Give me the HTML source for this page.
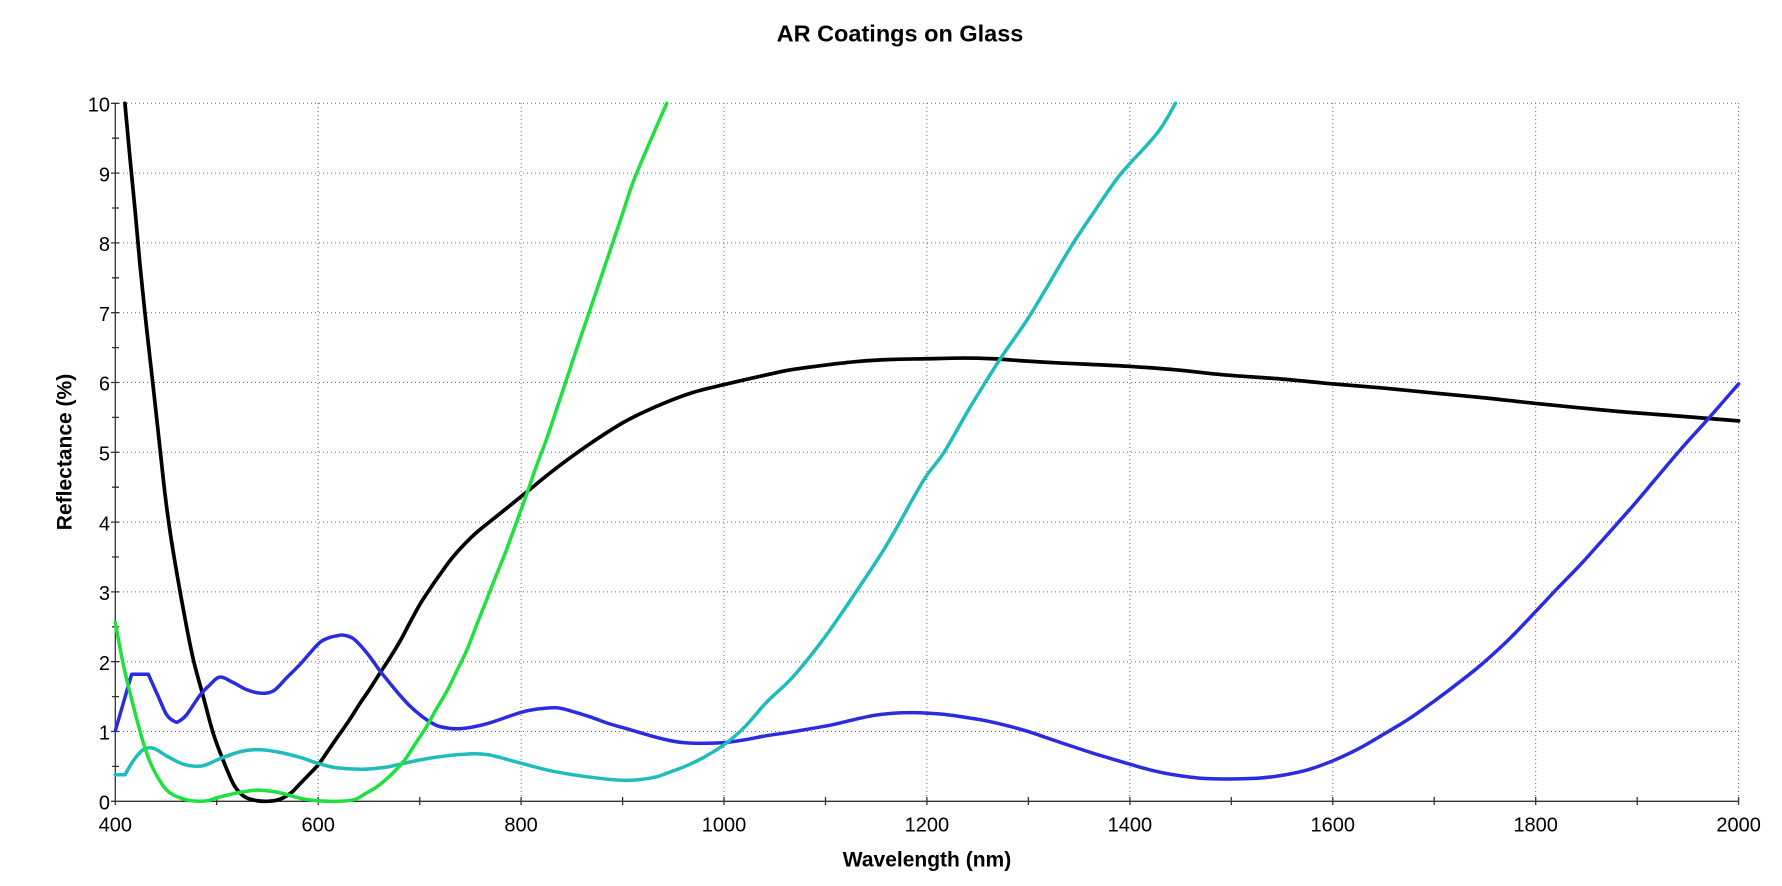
<!DOCTYPE html>
<html>
<head>
<meta charset="utf-8">
<style>
html,body{margin:0;padding:0;background:#fff;}
svg{display:block;}
text{font-family:"Liberation Sans",Arial,sans-serif;fill:#000;}
</style>
</head>
<body>
<svg width="1782" height="886" viewBox="0 0 1782 886" xmlns="http://www.w3.org/2000/svg">
<rect width="1782" height="886" fill="#fff"/>
<text x="900" y="41.5" font-size="23.5" font-weight="bold" text-anchor="middle">AR Coatings on Glass</text>
<path stroke="#6a6a6a" stroke-width="1" stroke-dasharray="1 3" fill="none" d="M115 731.5H1739M115 661.7H1739M115 591.9H1739M115 522.1H1739M115 452.3H1739M115 382.5H1739M115 312.7H1739M115 242.9H1739M115 173.1H1739M115 103.3H1739M318.2 103V801M521.1 103V801M724 103V801M926.9 103V801M1129.9 103V801M1332.8 103V801M1535.7 103V801M1738.6 103V801"/>
<path stroke="#333" stroke-width="1.3" fill="none" d="M115.3 103V801.3H1739M111 801.3h4.3M111 731.5h8M111 661.7h8M111 591.9h8M111 522.1h8M111 452.3h8M111 382.5h8M111 312.7h8M111 242.9h8M111 173.1h8M111 103.3h8M112 766.4h7M112 696.6h7M112 626.8h7M112 557h7M112 487.2h7M112 417.4h7M112 347.6h7M112 277.8h7M112 208h7M112 138.2h7M115.3 797v8M216.7 797v8M318.2 797v8M419.7 797v8M521.1 797v8M622.6 797v8M724 797v8M825.5 797v8M926.9 797v8M1028.4 797v8M1129.9 797v8M1231.3 797v8M1332.8 797v8M1434.2 797v8M1535.7 797v8M1637.2 797v8M1738.6 797v8"/>
<g font-size="20" text-anchor="end">
<text x="110" y="809.5">0</text><text x="110" y="739.7">1</text><text x="110" y="669.9">2</text><text x="110" y="600.1">3</text><text x="110" y="530.3">4</text><text x="110" y="460.5">5</text><text x="110" y="390.7">6</text><text x="110" y="320.9">7</text><text x="110" y="251.1">8</text><text x="110" y="181.3">9</text><text x="110" y="111.5">10</text>
</g>
<g font-size="20" text-anchor="middle">
<text x="115.3" y="831.7">400</text><text x="318.2" y="831.7">600</text><text x="521.1" y="831.7">800</text><text x="724" y="831.7">1000</text><text x="926.9" y="831.7">1200</text><text x="1129.9" y="831.7">1400</text><text x="1332.8" y="831.7">1600</text><text x="1535.7" y="831.7">1800</text><text x="1738.6" y="831.7">2000</text>
</g>
<text x="927" y="866.5" font-size="21" font-weight="bold" text-anchor="middle">Wavelength (nm)</text>
<text transform="translate(71.5,452) rotate(-90)" font-size="21" font-weight="bold" text-anchor="middle">Reflectance (%)</text>
<g id="data" transform="matrix(1.01458 0 0 -69.8 -290.53 801.3)" fill="none" stroke-linejoin="round" stroke-linecap="round">
<polyline class="sm" vector-effect="non-scaling-stroke" stroke="#000" stroke-width="3.7" points="409.5,10 414.5,9.21 419.4,8.48 424.3,7.69 430.9,6.77 437.5,5.92 444,5.06 449,4.4 453.9,3.87 460.5,3.28 468.7,2.62 476.9,2.03 486.7,1.5 496.6,0.97 506.5,0.58 516.3,0.25 523,0.12 529.4,0.05 540,0.008 549,0 558,0.012 565.6,0.05 574,0.13 582,0.25 590,0.37 600.4,0.53 610,0.73 621.4,0.97 631,1.17 641,1.4 650,1.59 661,1.84 670,2.04 680.5,2.29 690,2.55 700.2,2.82 710,3.04 720,3.25 730,3.45 740,3.62 750,3.77 760,3.9 779,4.12 805.4,4.43 831.7,4.74 864.6,5.09 897.5,5.4 920,5.57 943.5,5.72 970,5.86 1000,5.97 1042,6.11 1065,6.18 1100,6.25 1131,6.3 1165,6.33 1200,6.34 1236,6.35 1265,6.34 1295,6.31 1330,6.28 1361,6.26 1400.8,6.23 1446.5,6.18 1492.5,6.11 1549,6.05 1600,5.98 1650,5.92 1698.8,5.85 1750,5.78 1800,5.7 1878,5.59 1940,5.52 2000,5.45"/>
<polyline vector-effect="non-scaling-stroke" stroke="#2b2be2" stroke-width="3.5" points="400,1.01 416.1,1.82 432.5,1.82"/>
<polyline class="sm" vector-effect="non-scaling-stroke" stroke="#2b2be2" stroke-width="3.5" points="432.5,1.82 442.4,1.5 450.6,1.24 458.8,1.14 463,1.15 470.3,1.24 483.5,1.52 493.3,1.67 503.2,1.78 516.3,1.7 529.4,1.6 542.6,1.55 555.7,1.58 568.9,1.77 582,1.96 600.4,2.26 610,2.34 618.2,2.37 625,2.38 634.6,2.33 647.7,2.13 660.8,1.87 667.4,1.75 680.5,1.52 690,1.37 700.2,1.24 710,1.14 720,1.07 739.7,1.04 766,1.11 798.8,1.27 815,1.32 835,1.34 850,1.29 867.9,1.21 885,1.12 904,1.04 925,0.95 943.5,0.88 960,0.84 976.3,0.83 1000,0.84 1020,0.88 1042,0.94 1065,0.99 1104.7,1.09 1125,1.16 1147.4,1.23 1165,1.26 1186.9,1.27 1213,1.25 1235,1.21 1255.9,1.16 1280,1.08 1301.9,0.99 1320,0.9 1344.6,0.78 1370,0.66 1400.5,0.53 1420,0.45 1443.3,0.38 1470,0.33 1492.5,0.32 1525.4,0.33 1549,0.37 1575,0.45 1600,0.58 1625,0.75 1647.7,0.94 1675,1.18 1700.4,1.44 1725,1.71 1746.5,1.96 1775,2.34 1800,2.72 1822,3.06 1845.3,3.41 1870,3.81 1898,4.27 1920,4.65 1944,5.06 1970,5.48 2000,5.98"/>
<polyline vector-effect="non-scaling-stroke" stroke="#1fbcbc" stroke-width="3.5" points="400,0.38 409.5,0.38"/>
<polyline class="sm" vector-effect="non-scaling-stroke" stroke="#1fbcbc" stroke-width="3.5" points="409.5,0.38 417.7,0.58 427.6,0.74 437.5,0.76 450.6,0.65 463.7,0.55 473.6,0.51 486.7,0.51 503.2,0.61 522.9,0.71 539.3,0.74 559,0.71 582,0.63 600.4,0.54 618.2,0.48 644.4,0.46 667.4,0.49 680,0.53 706.8,0.61 739.7,0.67 766,0.67 798.8,0.55 831.7,0.43 871.2,0.34 904,0.3 930.3,0.34 945,0.41 963.2,0.51 980,0.63 1000,0.81 1020,1.06 1042,1.42 1065.2,1.74 1085,2.08 1104.7,2.46 1131,3.02 1160.6,3.68 1196.7,4.6 1216.4,4.99 1242.7,5.65 1272.3,6.34 1301.9,6.97 1341.3,7.93 1365,8.45 1390.6,8.98 1426.8,9.57 1444.9,10"/>
<polyline class="sm" vector-effect="non-scaling-stroke" stroke="#1ee03e" stroke-width="3.5" points="400,2.56 407.9,1.96 417.7,1.37 427.6,0.84 435.8,0.51 447.3,0.22 455,0.11 463.7,0.05 473,0.012 483.5,0 492,0.012 499.9,0.05 511,0.09 523,0.13 539.3,0.16 555.7,0.14 566,0.11 575.4,0.07 587,0.03 598.4,0.01 611.5,0 621.4,0 634.6,0.02 641,0.06 647.7,0.12 656,0.19 667.4,0.32 680.6,0.51 687.1,0.63 696,0.83 706.8,1.07 716,1.31 726.5,1.57 736,1.85 746.3,2.16 756,2.52 766,2.89 775,3.22 785.7,3.61 795,3.98 805.4,4.4 815,4.8 825.1,5.19 835,5.62 844.9,6.05 854,6.45 864.6,6.9 877,7.43 890.9,8.03 900,8.42 910.6,8.88 927,9.45 943.5,10"/>
</g>
</svg>
<script>
(function(){
  var NS="http://www.w3.org/2000/svg";
  var lines=document.querySelectorAll("#data polyline.sm");
  for(var k=0;k<lines.length;k++){
    var pl=lines[k];
    var raw=pl.getAttribute("points").trim().split(/\s+/);
    var p=[];
    for(var i=0;i<raw.length;i++){var a=raw[i].split(",");p.push([+a[0],+a[1]]);}
    if(p.length<3)continue;
    var d="M"+p[0][0]+","+p[0][1];
    for(var j=0;j<p.length-1;j++){
      var p0=p[j>0?j-1:j],p1=p[j],p2=p[j+1],p3=p[j+2<p.length?j+2:j+1];
      var c1x=p1[0]+(p2[0]-p0[0])/6,c1y=p1[1]+(p2[1]-p0[1])/6;
      var c2x=p2[0]-(p3[0]-p1[0])/6,c2y=p2[1]-(p3[1]-p1[1])/6;
      d+=" C"+c1x.toFixed(3)+","+c1y.toFixed(4)+" "+c2x.toFixed(3)+","+c2y.toFixed(4)+" "+p2[0]+","+p2[1];
    }
    var path=document.createElementNS(NS,"path");
    path.setAttribute("d",d);
    path.setAttribute("vector-effect","non-scaling-stroke");
    path.setAttribute("stroke",pl.getAttribute("stroke"));
    path.setAttribute("stroke-width",pl.getAttribute("stroke-width"));
    path.setAttribute("fill","none");
    pl.parentNode.replaceChild(path,pl);
  }
})();
</script>
</body>
</html>
